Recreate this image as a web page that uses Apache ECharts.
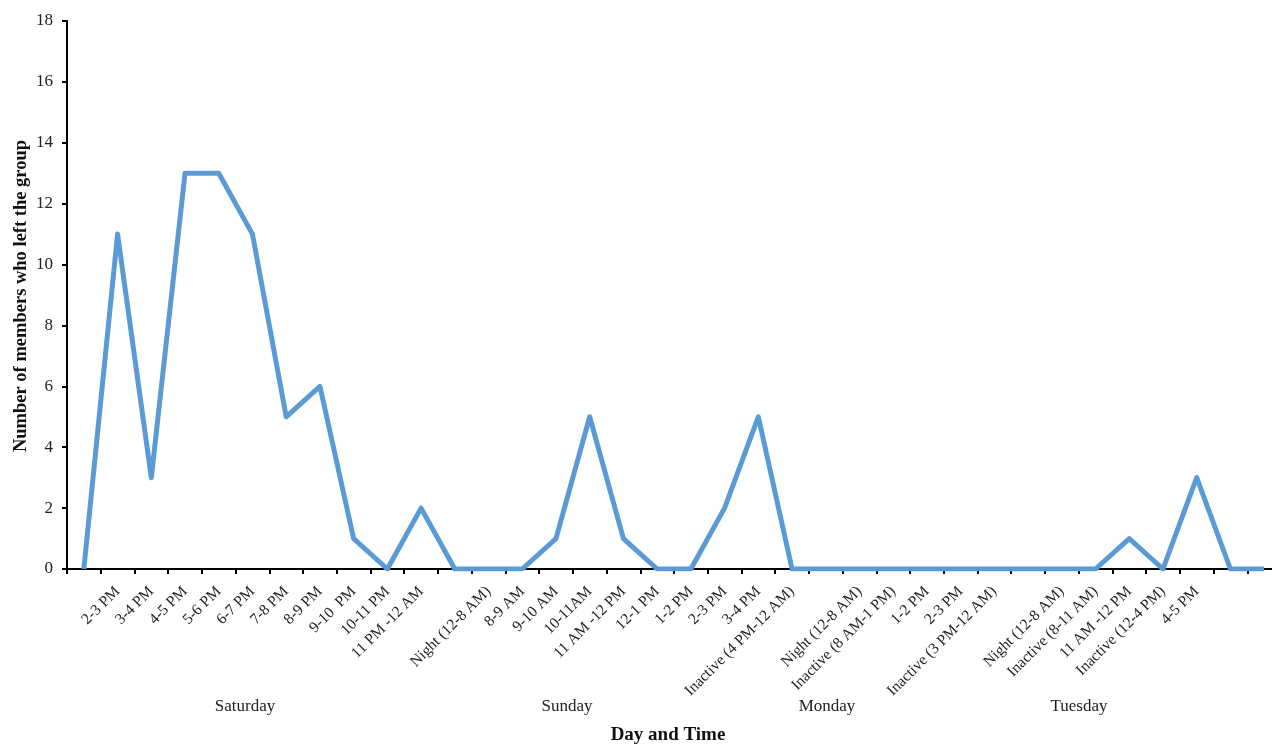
<!DOCTYPE html>
<html>
<head>
<meta charset="utf-8">
<script src="https://cdn.jsdelivr.net/npm/echarts@6/dist/echarts.min.js"></script>
<style>
html,body{margin:0;padding:0;background:#fff;overflow:hidden;}
#wrap{width:1272px;height:744px;overflow:hidden;}
#main{width:1281px;height:744px;}
</style>
</head>
<body>
<div id="wrap"><div id="main"></div></div>
<script>
const categories = [
  '', '2-3 PM', '3-4 PM', '4-5 PM', '5-6 PM', '6-7 PM', '7-8 PM', '8-9 PM', '9-10  PM', '10-11 PM', '11 PM -12 AM',
  '', 'Night (12-8 AM)', '8-9 AM', '9-10 AM', '10-11AM', '11 AM -12 PM', '12-1 PM', '1-2 PM', '2-3 PM', '3-4 PM', 'Inactive (4 PM-12 AM)',
  '', 'Night (12-8 AM)', 'Inactive (8 AM-1 PM)', '1-2 PM', '2-3 PM', 'Inactive (3 PM-12 AM)',
  '', 'Night (12-8 AM)', 'Inactive (8-11 AM)', '11 AM -12 PM', 'Inactive (12-4 PM)', '4-5 PM', '', ''
];
const membersLeft = [
  0, 11, 3, 13, 13, 11, 5, 6, 1, 0, 2,
  0, 0, 0, 1, 5, 1, 0, 0, 2, 5, 0,
  0, 0, 0, 0, 0, 0,
  0, 0, 0, 1, 0, 3, 0, 0
];
const yTicks = [0, 2, 4, 6, 8, 10, 12, 14, 16, 18];
const dayLabels = ['Saturday', 'Sunday', 'Monday', 'Tuesday'];
const dayLabelX = [245, 567, 827, 1079];

const chart = echarts.init(document.getElementById('main'), null, {renderer: 'canvas'});
const serif = '"Liberation Serif", "DejaVu Serif", serif';

const graphics = dayLabels.map((d, i) => ({
  type: 'text',
  x: dayLabelX[i],
  y: 707,
  style: {text: d, font: '17px ' + serif, fill: '#222', textAlign: 'center', textVerticalAlign: 'middle'}
}));
graphics.push({
  type: 'text', x: 668, y: 735,
  style: {text: 'Day and Time', font: 'bold 19px ' + serif, fill: '#111', textAlign: 'center', textVerticalAlign: 'middle'}
});
graphics.push({
  type: 'text', x: 21, y: 296,
  rotation: Math.PI / 2,
  style: {text: 'Number of members who left the group', font: 'bold 18.5px ' + serif, fill: '#111', textAlign: 'center', textVerticalAlign: 'middle'}
});

chart.setOption({
  backgroundColor: '#fff',
  animation: false,
  grid: {left: 67, right: 0, top: 21, bottom: 175, containLabel: false},
  xAxis: {
    type: 'category',
    data: categories,
    boundaryGap: true,
    axisLine: {show: true, lineStyle: {color: '#000', width: 2}},
    axisTick: {show: true, alignWithLabel: false, length: 5, lineStyle: {color: '#000', width: 2}, interval: 0},
    axisLabel: {interval: 0, rotate: 45, margin: 20, fontFamily: serif, fontSize: 15.5, color: '#222'},
    splitLine: {show: false}
  },
  yAxis: {
    type: 'value',
    min: yTicks[0],
    max: yTicks[yTicks.length - 1],
    interval: 2,
    axisLine: {show: true, lineStyle: {color: '#000', width: 2}},
    axisTick: {show: true, length: 5, lineStyle: {color: '#000', width: 2}},
    axisLabel: {margin: 14, fontFamily: serif, fontSize: 17, color: '#222'},
    splitLine: {show: false}
  },
  series: [{
    type: 'line',
    data: membersLeft,
    showSymbol: false,
    symbol: 'none',
    lineStyle: {color: '#5B9BD5', width: 5, join: 'round'},
    itemStyle: {color: '#5B9BD5'}
  }],
  graphic: graphics
});
</script>
</body>
</html>
